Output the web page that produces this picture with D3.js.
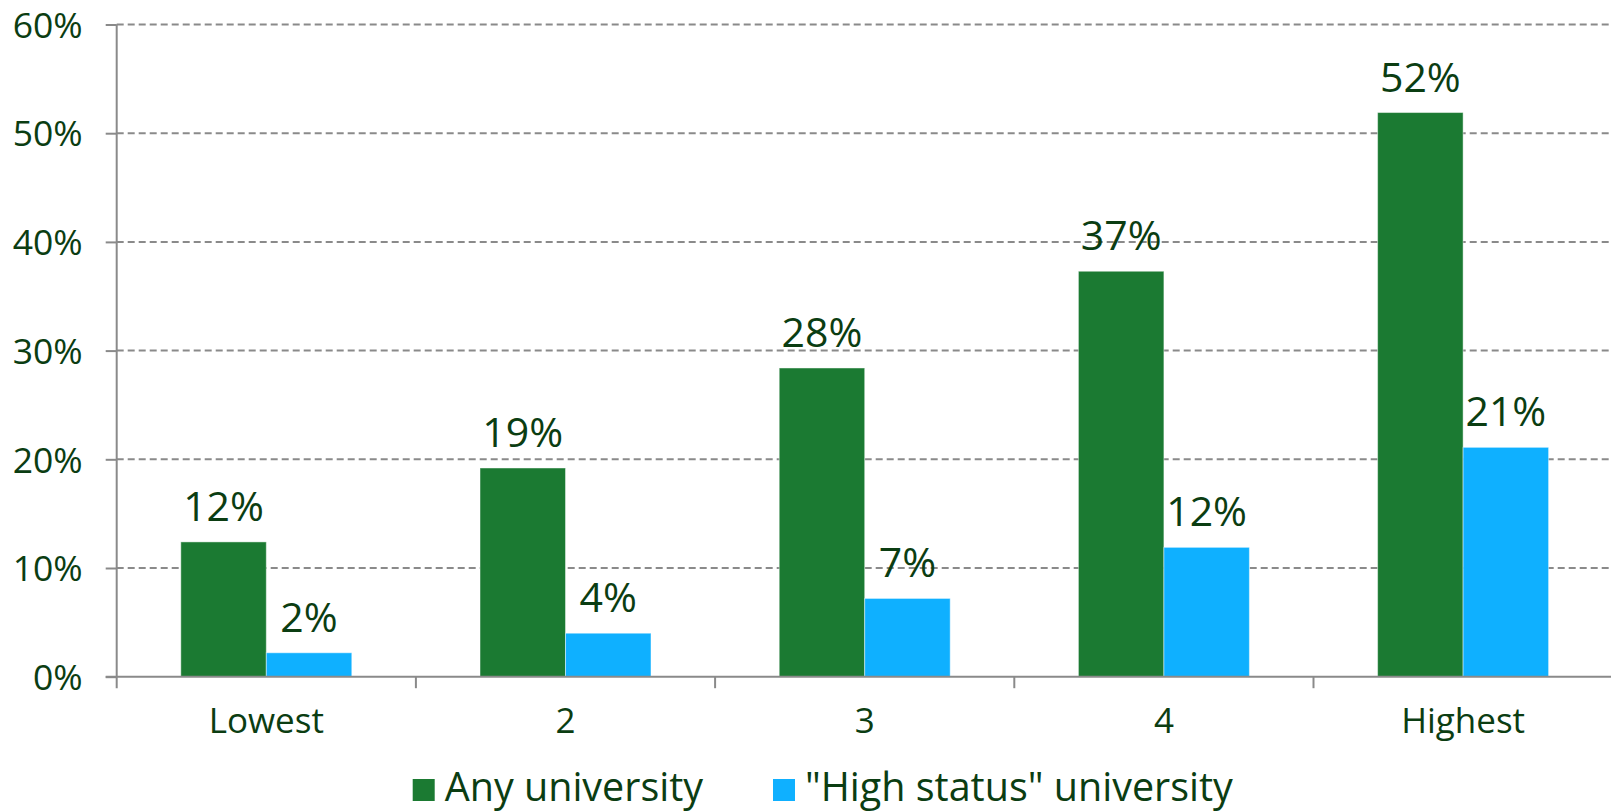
<!DOCTYPE html>
<html>
<head>
<meta charset="utf-8">
<script src="https://cdn.jsdelivr.net/npm/d3@7"></script>
<style>
  html, body { margin: 0; padding: 0; background: #fff; }
  svg { display: block; }
  text { font-family: "Open Sans", "Noto Sans", sans-serif; fill: #0b3d12; }
</style>
</head>
<body>
<svg id="chart" width="1611" height="812"></svg>
<script>
// Share entering university by income quintile
const categories = ["Lowest", "2", "3", "4", "Highest"];
const seriesNames = ["Any university", "\"High status\" university"];
const anyUniversity = [12.4, 19.2, 28.4, 37.3, 51.9];
const highStatus = [2.2, 4.0, 7.2, 11.9, 21.1];
const anyLabels = ["12%", "19%", "28%", "37%", "52%"];
const highLabels = ["2%", "4%", "7%", "12%", "21%"];
const yTicks = [0, 10, 20, 30, 40, 50, 60];

const colors = ["#1b7a32", "#0fb0ff"];
const axisColor = "#8a8a8a";

const svg = d3.select("#chart");
const plotLeft = 116.7, plotRight = 1612.7, plotTop = 24.5, plotBottom = 676.7;

const x = d3.scaleBand().domain(categories).range([plotLeft, plotRight]).padding(0);
const xInner = d3.scaleBand().domain(seriesNames).range([0, x.bandwidth()])
  .paddingInner(0).paddingOuter(0.75);
const y = d3.scaleLinear().domain([0, 60]).range([plotBottom, plotTop]);

const rows = categories.map((c, i) => ({
  category: c,
  values: [
    { series: seriesNames[0], value: anyUniversity[i], label: anyLabels[i], color: colors[0] },
    { series: seriesNames[1], value: highStatus[i], label: highLabels[i], color: colors[1] }
  ]
}));

// dashed horizontal gridlines
svg.append("g").selectAll("line")
  .data(yTicks.filter(t => t > 0))
  .join("line")
  .attr("x1", plotLeft).attr("x2", 1611)
  .attr("y1", d => y(d)).attr("y2", d => y(d))
  .attr("stroke", axisColor).attr("stroke-width", 2)
  .attr("stroke-dasharray", "7,4");

// y axis
const yAxis = svg.append("g")
  .attr("transform", `translate(${plotLeft},0)`)
  .call(d3.axisLeft(y).tickValues(yTicks).tickSize(11).tickFormat(d => d + "%"));
yAxis.select(".domain").remove();
yAxis.selectAll(".tick line").attr("stroke", axisColor).attr("stroke-width", 2);
yAxis.selectAll(".tick text")
  .attr("x", -34).attr("dy", "0.36em")
  .attr("fill", "#0b3d12")
  .style("font-size", "35.5px")
  .style("font-family", "'Open Sans', sans-serif");
svg.append("line")
  .attr("x1", plotLeft).attr("x2", plotLeft)
  .attr("y1", plotTop).attr("y2", plotBottom + 11.5)
  .attr("stroke", axisColor).attr("stroke-width", 2);

// bars
const groups = svg.append("g").selectAll("g")
  .data(rows)
  .join("g")
  .attr("transform", d => `translate(${x(d.category)},0)`);

groups.selectAll("rect")
  .data(d => d.values)
  .join("rect")
  .attr("x", d => xInner(d.series))
  .attr("width", xInner.bandwidth())
  .attr("y", d => y(d.value))
  .attr("height", d => y(0) - y(d.value))
  .attr("fill", d => d.color)
  .attr("stroke", "rgba(255,255,255,0.45)")
  .attr("stroke-width", 1);

groups.selectAll("text")
  .data(d => d.values)
  .join("text")
  .attr("x", d => xInner(d.series) + xInner.bandwidth() / 2)
  .attr("y", d => y(d.value) - 21)
  .attr("text-anchor", "middle")
  .style("font-size", "41px")
  .text(d => d.label);

// x axis with ticks between categories
svg.append("line")
  .attr("x1", plotLeft - 11).attr("x2", 1611)
  .attr("y1", plotBottom).attr("y2", plotBottom)
  .attr("stroke", axisColor).attr("stroke-width", 2);
svg.append("g").selectAll("line")
  .data(categories.slice(1))
  .join("line")
  .attr("x1", d => x(d)).attr("x2", d => x(d))
  .attr("y1", plotBottom).attr("y2", plotBottom + 11.5)
  .attr("stroke", axisColor).attr("stroke-width", 2);
svg.append("g").selectAll("text")
  .data(categories)
  .join("text")
  .attr("x", d => x(d) + x.bandwidth() / 2)
  .attr("y", 733)
  .attr("text-anchor", "middle")
  .style("font-size", "35px")
  .text(d => d);

// legend
const legendItems = [
  { name: seriesNames[0], color: colors[0], x: 412.7 },
  { name: seriesNames[1], color: colors[1], x: 773 }
];
const legend = svg.append("g").selectAll("g")
  .data(legendItems)
  .join("g")
  .attr("transform", d => `translate(${d.x},0)`);
legend.append("rect")
  .attr("x", 0).attr("y", 779).attr("width", 22).attr("height", 22)
  .attr("fill", d => d.color);
legend.append("text")
  .attr("x", 32).attr("y", 800.5)
  .style("font-size", "39.5px")
  .text(d => d.name);
</script>
</body>
</html>
